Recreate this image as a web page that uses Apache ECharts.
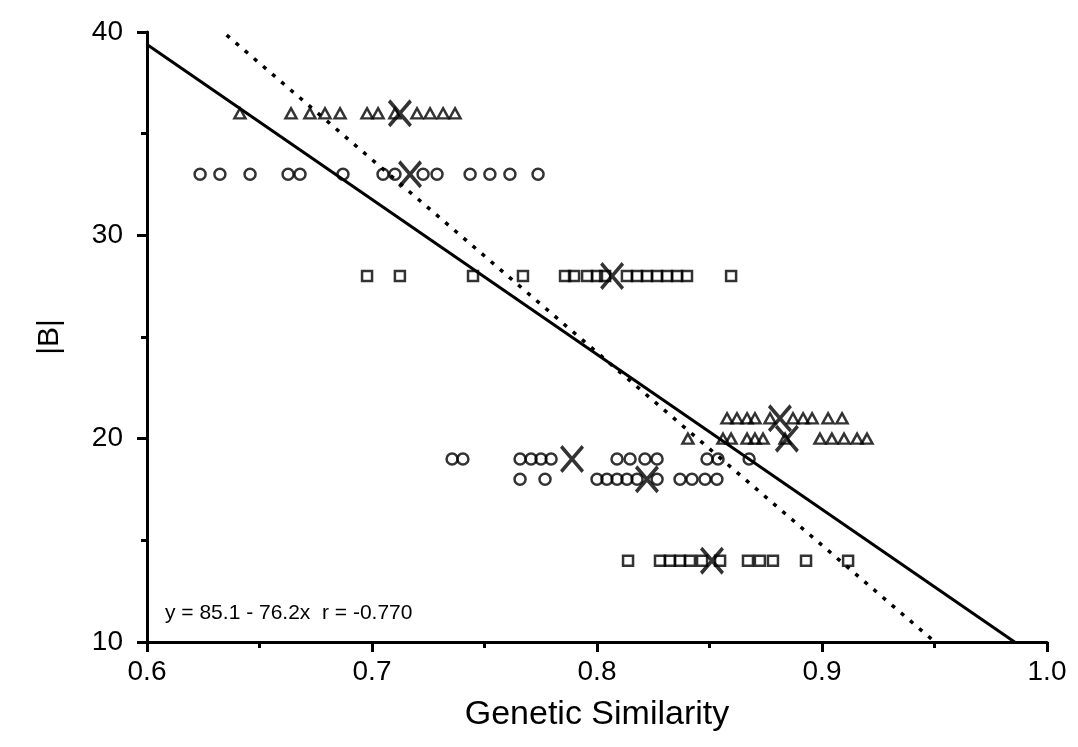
<!DOCTYPE html>
<html><head><meta charset="utf-8">
<script src="https://cdn.jsdelivr.net/npm/echarts@6/dist/echarts.min.js"></script>
<style>html,body{margin:0;padding:0;background:#fff}#c{width:1078px;height:747px}</style>
</head><body><div id="c"></div><script>
// Genetic similarity values per |B| level
const tri36 = [0.6413,0.6640,0.6724,0.6791,0.6858,0.6978,0.7027,0.7102,0.7200,0.7258,0.7316,0.7369];
const circ33 = [0.6236,0.6324,0.6458,0.6627,0.6680,0.6871,0.7049,0.7102,0.7227,0.7289,0.7436,0.7524,0.7613,0.7738];
const sq28 = [0.6978,0.7124,0.7449,0.7671,0.7858,0.7898,0.7956,0.8000,0.8036,0.8133,0.8178,0.8222,0.8267,0.8311,0.8356,0.8400,0.8596];
const tri21 = [0.8578,0.8622,0.8667,0.8702,0.8769,0.8871,0.8916,0.8956,0.9027,0.9089];
const tri20 = [0.8404,0.8560,0.8596,0.8667,0.8702,0.8738,0.8836,0.8991,0.9044,0.9098,0.9156,0.9200];
const circ19 = [0.7356,0.7404,0.7658,0.7707,0.7751,0.7796,0.8089,0.8147,0.8213,0.8267,0.8489,0.8538,0.8676];
const circ18 = [0.7658,0.7769,0.8000,0.8044,0.8089,0.8133,0.8178,0.8267,0.8369,0.8422,0.8480,0.8533];
const sq14 = [0.8138,0.8280,0.8324,0.8369,0.8413,0.8467,0.8547,0.8671,0.8724,0.8782,0.8929,0.9116];
const meanX = [0.7124,0.7169,0.8067,0.8813,0.8844,0.7889,0.8222,0.8511];
const meanY = [36,33,28,21,20,19,18,14];
// regression line (solid) and second line (dotted) endpoints
const fitX = [0.6, 0.9856];
const fitY = [39.38, 10];
const dotX = [0.6354, 0.9502];
const dotY = [39.85, 10];
const xTickLabels = ['0.6','0.7','0.8','0.9','1.0'];
const yTickLabels = ['10','20','30','40'];
const equation = 'y = 85.1 - 76.2x  r = -0.770';

const pts = (xs, y) => xs.map(x => [x, y]);
const zip = (xs, ys) => xs.map((x, i) => [x, ys[i]]);

const openStyle = {color: 'rgba(0,0,0,0)', borderColor: '#000', borderWidth: 2.5};
const FONT = 'Liberation Sans, Arial, Helvetica, sans-serif';
const xPath = 'path://M2,0 L10,8 L18,0 L20,2 L12,10 L20,18 L18,20 L10,12 L2,20 L0,18 L8,10 L0,2 Z';

function scat(data, symbol, size) {
  return {type: 'scatter', data, symbol, symbolSize: size, itemStyle: openStyle, z: 3};
}

const chart = echarts.init(document.getElementById('c'), null, {renderer: 'canvas'});
chart.setOption({
  animation: false,
  backgroundColor: '#fff',
  grid: {left: 147, right: 31, top: 32, bottom: 105},
  xAxis: {
    type: 'value', min: 0.6, max: 1.0, interval: 0.1,
    axisLine: {onZero: false, lineStyle: {color: '#000', width: 3}},
    axisTick: {length: 10, lineStyle: {color: '#000', width: 3}},
    minorTick: {show: true, splitNumber: 2, length: 6, lineStyle: {color: '#000', width: 3}},
    splitLine: {show: false},
    axisLabel: {color: '#000', fontSize: 28, fontFamily: FONT, margin: 16,
      formatter: v => xTickLabels[Math.round((v - 0.6) * 10)] || ''},
    name: 'Genetic Similarity', nameLocation: 'middle', nameGap: 56,
    nameTextStyle: {color: '#000', fontSize: 34, fontFamily: FONT}
  },
  yAxis: {
    type: 'value', min: 10, max: 40, interval: 10,
    axisLine: {onZero: false, lineStyle: {color: '#000', width: 3}},
    axisTick: {length: 10, lineStyle: {color: '#000', width: 3}},
    minorTick: {show: true, splitNumber: 2, length: 6, lineStyle: {color: '#000', width: 3}},
    splitLine: {show: false},
    axisLabel: {color: '#000', fontSize: 28, fontFamily: FONT, margin: 24,
      formatter: v => yTickLabels[Math.round((v - 10) / 10)] || ''},
    name: '|B|', nameLocation: 'middle', nameGap: 82, nameRotate: 90,
    nameTextStyle: {color: '#000', fontSize: 30, fontFamily: FONT}
  },
  graphic: [{
    type: 'text', left: 165, top: 603,
    style: {text: equation, fill: '#000', fontSize: 21, fontFamily: FONT}
  }],
  series: [
    {type: 'line', data: zip(fitX, fitY), symbol: 'none', lineStyle: {color: '#000', width: 3}, z: 2},
    {type: 'line', data: zip(dotX, dotY), symbol: 'none', lineStyle: {color: '#000', width: 3.5, type: [4, 8]}, z: 2},
    scat(pts(tri36, 36), 'triangle', [11, 10]),
    scat(pts(circ33, 33), 'circle', 11),
    scat(pts(sq28, 28), 'rect', 10),
    scat(pts(tri21, 21), 'triangle', [11, 10]),
    scat(pts(tri20, 20), 'triangle', [11, 10]),
    scat(pts(circ19, 19), 'circle', 11),
    scat(pts(circ18, 18), 'circle', 11),
    scat(pts(sq14, 14), 'rect', 10),
    {type: 'scatter', data: zip(meanX, meanY), symbol: xPath, symbolSize: [24, 28],
      itemStyle: {color: '#000'}, z: 4}
  ]
});
</script></body></html>
